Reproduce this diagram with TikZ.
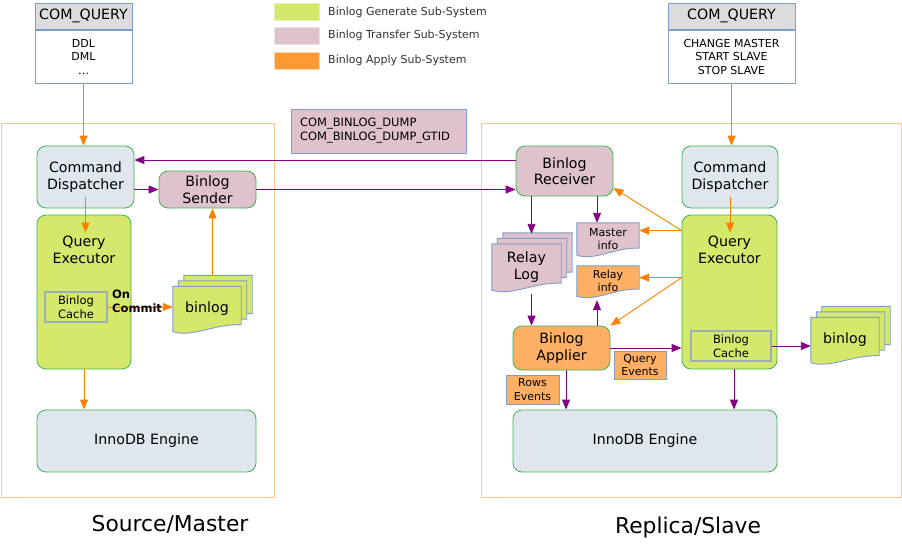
\documentclass[tikz,border=0pt]{standalone}
\usepackage{fontspec}
\setmainfont{DejaVu Sans}
\usetikzlibrary{calc,arrows.meta,backgrounds}

\definecolor{genfill}{HTML}{D5E86B}
\definecolor{xferfill}{HTML}{DFC2CB}
\definecolor{applyfill}{HTML}{FDB064}
\definecolor{legapply}{HTML}{FF9933}
\definecolor{cmdfill}{HTML}{DFE6EE}
\definecolor{boxgreen}{HTML}{3DB550}
\definecolor{docblue}{HTML}{7F9DC8}
\definecolor{hostline}{HTML}{FFC48C}
\definecolor{cachegrey}{HTML}{9AAEB5}
\definecolor{hdrgrey}{HTML}{DCDCDC}
\definecolor{flowor}{HTML}{FF8000}
\definecolor{flowpu}{HTML}{850085}
\definecolor{legtext}{HTML}{333333}

\newcommand\modfont{\fontsize{14.2}{16.5}\selectfont}
\newcommand\cachefont{\fontsize{11.5}{14}\selectfont}
\newcommand\smallfont{\fontsize{11}{13.5}\selectfont}
\newcommand\legfont{\fontsize{11}{13}\selectfont}
\newcommand\hostfont{\fontsize{21.8}{25}\selectfont}

% one page of a document shape, offset by #2, round node #1
\newcommand\docpage[3]{%
  \draw[docline, fill=#3] ($(#1.north west)+(#2)$) -- ($(#1.north east)+(#2)$)
    -- ($(#1.south east)+(#2)+(0,-7)$)
    .. controls ($(#1.south west)!0.6!(#1.south east)+(#2)+(0,-8)$)
    and ($(#1.south west)!0.3!(#1.south east)+(#2)+(0,6)$) .. ($(#1.south west)+(#2)$)
    -- cycle;}
\newcommand\docstack[2]{%
  \docpage{#1}{11,-11}{#2}\docpage{#1}{5.5,-5.5}{#2}\docpage{#1}{0,0}{#2}}

\begin{document}
\begin{tikzpicture}[x=1pt,y=-1pt,
    docline/.style={draw=docblue, line width=0.9pt}]

  \useasboundingbox (0,0) rectangle (902,554);

  % hosts
  \begin{scope}[every node/.style={draw=hostline, line width=1pt, inner sep=0pt}]
    \node[minimum width=273pt, minimum height=374pt] (src) at (137.5,310) {};
    \node[minimum width=420pt, minimum height=374pt] (rep) at (691,310) {};
  \end{scope}

  \node[font=\hostfont] (srcT) at (170,524) {Source/Master};
  \node[font=\hostfont] (repT) at (688,527) {Replica/Slave};

  % legend
  \begin{scope}[every node/.style={minimum width=45pt, minimum height=17pt, inner sep=0pt}]
    \node[fill=genfill, draw=genfill!50!white] (legGen) at (296.5,12) {};
    \node[fill=xferfill, draw=xferfill!50!white] (legXfer) at (296.5,35.5) {};
    \node[fill=legapply, draw=legapply!40!white] (legApply) at (296.5,60.5) {};
  \end{scope}
  \begin{scope}[every node/.style={anchor=west, inner sep=0pt, text=legtext, font=\legfont}]
    \node (legGenT) at (328,12) {Binlog Generate Sub-System};
    \node (legXferT) at (328,35.5) {Binlog Transfer Sub-System};
    \node (legApplyT) at (328,60.5) {Binlog Apply Sub-System};
  \end{scope}

  % commands
  \begin{scope}[every node/.style={draw=docblue, line width=1pt, inner sep=0pt, align=center}]
    \node[fill=hdrgrey, minimum width=97pt, minimum height=26pt, font=\modfont] (cqLh) at (83.5,16) {COM\_QUERY};
    \node[fill=white, minimum width=97pt, minimum height=53pt, font=\smallfont, anchor=north] (cqL) at (cqLh.south) {DDL\\DML\\\ldots};
    \node[fill=hdrgrey, minimum width=127pt, minimum height=26pt, font=\modfont] (cqRh) at (731.5,16) {COM\_QUERY};
    \node[fill=white, minimum width=127pt, minimum height=53pt, font=\smallfont, anchor=north] (cqR) at (cqRh.south) {CHANGE MASTER\\START SLAVE\\STOP SLAVE};
    \node[fill=xferfill, minimum width=175pt, minimum height=44pt, text width=157pt, align=left, font=\cachefont] (dump) at (378.5,131) {COM\_BINLOG\_DUMP\\COM\_BINLOG\_DUMP\_GTID};
  \end{scope}

  % modules
  \begin{scope}[every node/.style={draw=boxgreen, line width=0.8pt, rounded corners=9pt, inner sep=0pt, align=center, font=\modfont}]
    \node[fill=cmdfill, minimum width=97pt, minimum height=62pt] (cdL) at (85.5,177) {Command\\Dispatcher};
    \node[fill=xferfill, minimum width=97pt, minimum height=37pt] (snd) at (207.5,189.5) {Binlog\\Sender};
    \node[fill=genfill, minimum width=94pt, minimum height=154pt,
      label={[anchor=north, yshift=-21pt, draw=none, fill=none, align=center, font=\modfont]north:Query\\Executor}] (qeL) at (84,292) {};
    \node[fill=cmdfill, minimum width=219pt, minimum height=62pt] (innoL) at (146.5,441) {InnoDB Engine};

    \node[fill=xferfill, minimum width=97pt, minimum height=50pt] (rcv) at (564.5,171) {Binlog\\Receiver};
    \node[fill=cmdfill, minimum width=96pt, minimum height=62pt] (cdR) at (730,177) {Command\\Dispatcher};
    \node[fill=genfill, minimum width=95pt, minimum height=154pt,
      label={[anchor=north, yshift=-21pt, draw=none, fill=none, align=center, font=\modfont]north:Query\\Executor}] (qeR) at (729.5,292) {};
    \node[fill=applyfill, minimum width=97pt, minimum height=44pt] (apl) at (561.5,348) {Binlog\\Applier};
    \node[fill=cmdfill, minimum width=264pt, minimum height=62pt] (innoR) at (645,441) {InnoDB Engine};
  \end{scope}

  % caches
  \begin{scope}[every node/.style={draw=cachegrey, line width=1.2pt, inner sep=0pt, align=center, font=\cachefont}]
    \node[minimum width=62pt, minimum height=30pt] (cacheL) at (76,307) {Binlog\\Cache};
    \node[minimum width=80pt, minimum height=30pt] (cacheR) at (731,346) {Binlog\\Cache};
  \end{scope}

  % event tags
  \begin{scope}[every node/.style={draw=docblue, line width=1pt, fill=applyfill, inner sep=0pt, align=center, font=\smallfont}]
    \node[minimum width=52pt, minimum height=28pt] (qev) at (640,365) {Query\\Events};
    \node[minimum width=53pt, minimum height=29pt] (rev) at (532.5,389.5) {Rows\\Events};
  \end{scope}

  % documents
  \begin{scope}[every node/.style={inner sep=0pt, align=center}]
    \node[minimum width=68pt, minimum height=45pt, font=\modfont] (binlogL) at (207,309) {binlog};
    \node[minimum width=68pt, minimum height=45pt, font=\modfont] (binlogR) at (845,340) {binlog};
    \node[minimum width=69pt, minimum height=46pt, font=\modfont] (relay) at (526.5,267) {Relay\\Log};
    \node[minimum width=62pt, minimum height=32pt, font=\smallfont] (mi) at (608,239) {Master\\info};
    \node[minimum width=62pt, minimum height=30pt, font=\smallfont] (ri) at (608,281) {Relay\\info};
  \end{scope}
  \begin{pgfonlayer}{background}
    \docstack{binlogL}{genfill}
    \docstack{binlogR}{genfill}
    \docstack{relay}{xferfill}
    \docpage{mi}{0,0}{xferfill}
    \docpage{ri}{0,0}{applyfill}
  \end{pgfonlayer}

  % connector ends
  \coordinate (rcvIn) at ($(rcv.west)+(0,-11)$);
  \coordinate (cdLout) at ($(cdL.south)+(0,-11)$);
  \coordinate (qeLin) at ($(cdL.south |- qeL.north)+(0,18)$);
  \coordinate (cdRout) at ($(cdR.south)+(0,-11)$);
  \coordinate (qeRin) at ($(cdR.south |- qeR.north)+(0,18)$);
  \coordinate (bLtop) at ($(binlogL.north)+(5.5,-11)$);
  \coordinate (rlTop) at ($(relay.north)+(5,-10)$);
  \coordinate (miTop) at ($(mi.north)+(-11,0)$);
  \coordinate (riBot) at ($(ri.south)+(-11,4)$);
  \coordinate (qeR1) at ($(qeR.north west)+(0,16)$);
  \coordinate (qeR2) at ($(qeR.north west)+(0,63)$);
  \coordinate (rcvBk) at ($(rcv.east)+(0,17)$);
  \coordinate (aplDn) at ($(apl.south)+(4.5,0)$);
  \coordinate (qeRdn) at ($(qeR.south)+(4.5,0)$);

  \begin{scope}[every edge/.style={draw=flowor, line width=0.9pt, -{Triangle[length=10pt,width=8pt]}}]
    \path (cqL.south) edge (cqL.south |- cdL.north);
    \path (cdLout) edge (qeLin);
    \path (qeL.south) edge (qeL.south |- innoL.north);
    \path (cacheL.east) edge (cacheL.east -| binlogL.west);
    \path (bLtop) edge (bLtop |- snd.south);
    \path (cqR.south) edge (cqR.south |- cdR.north);
    \path (cdRout) edge (qeRin);
    \path (qeR1) edge (rcvBk);
    \path (qeR1) edge (qeR1 -| mi.east);
    \path (qeR2) edge (qeR2 -| ri.east);
    \path (qeR2) edge (apl.north east);
  \end{scope}

  \begin{scope}[every edge/.style={draw=flowpu, line width=0.9pt, -{Triangle[length=10pt,width=8pt]}}]
    \path (rcvIn) edge (rcvIn -| cdL.east);
    \path (snd.west -| cdL.east) edge (snd.west);
    \path (snd.east) edge (snd.east -| rcv.west);
    \path (rlTop |- rcv.south) edge (rlTop);
    \path (miTop |- rcv.south) edge (miTop);
    \path ($(rlTop |- relay.south)+(0,4)$) edge (rlTop |- apl.north);
    \path (riBot |- apl.north) edge (riBot);
    \path (apl.east) edge (apl.east -| qeR.west);
    \path (aplDn) edge (aplDn |- innoR.north);
    \path (qeRdn) edge (qeRdn |- innoR.north);
    \path (cacheR.east) edge (cacheR.east -| binlogR.west);
  \end{scope}

  \node[anchor=north west, inner sep=0pt, align=left, font=\cachefont\bfseries] (onc) at (112,290) {On\\Commit};

\end{tikzpicture}
\end{document}
